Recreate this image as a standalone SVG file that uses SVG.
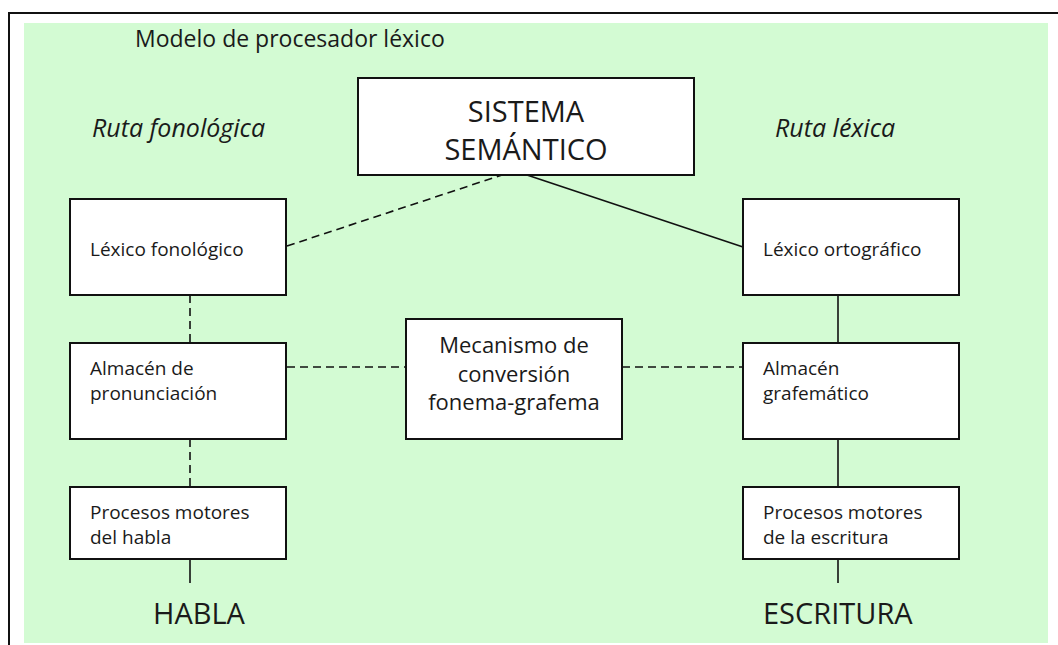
<svg xmlns="http://www.w3.org/2000/svg" width="1058" height="645" viewBox="0 0 1058 645">
<style>
text{font-family:"Open Sans","Noto Sans","Liberation Sans",sans-serif;fill:#1a1a1a}
.box{fill:#fff;stroke:#111;stroke-width:2}
.c{stroke:#111;stroke-width:1.6;fill:none}
.d{stroke-dasharray:8,5}
.s{font-size:19px}
.m{font-size:22px}
.it{font-size:25px;font-style:italic}
.big{font-size:29px}
</style>
<rect x="0" y="0" width="1058" height="645" fill="#fff"/>
<path d="M9,645 V13 H1058" fill="none" stroke="#111" stroke-width="2"/>
<rect x="24" y="23" width="1024" height="620" fill="#D3FBD3"/>
<text x="135" y="47" font-size="23">Modelo de procesador léxico</text>
<text x="92" y="137" class="it">Ruta fonológica</text>
<text x="775" y="137" class="it">Ruta léxica</text>
<g id="connectors">
<line class="c d" x1="287" y1="246" x2="502" y2="175"/>
<line class="c" x1="527" y1="175" x2="743" y2="247"/>
<line class="c d" x1="190" y1="295" x2="190" y2="343"/>
<line class="c d" x1="190" y1="439" x2="190" y2="487"/>
<line class="c" x1="190" y1="559" x2="190" y2="583"/>
<line class="c d" x1="287" y1="367" x2="406" y2="367"/>
<line class="c d" x1="622" y1="367" x2="743" y2="367"/>
<line class="c" x1="838" y1="295" x2="838" y2="343"/>
<line class="c" x1="838" y1="439" x2="838" y2="487"/>
<line class="c" x1="838" y1="559" x2="838" y2="583"/>
</g>
<g id="sistema">
<rect class="box" x="358" y="78" width="336" height="97"/>
<text x="526" y="122" text-anchor="middle" class="big">SISTEMA</text>
<text x="526" y="160" text-anchor="middle" class="big">SEMÁNTICO</text>
</g>
<g id="lexico-fonologico">
<rect class="box" x="70" y="199" width="216" height="96"/>
<text x="90" y="256" class="s">Léxico fonológico</text>
</g>
<g id="almacen-pronunciacion">
<rect class="box" x="70" y="343" width="216" height="96"/>
<text x="90" y="375" class="s">Almacén de</text>
<text x="90" y="400" class="s">pronunciación</text>
</g>
<g id="procesos-habla">
<rect class="box" x="70" y="487" width="216" height="72"/>
<text x="90" y="519" class="s">Procesos motores</text>
<text x="90" y="544" class="s">del habla</text>
</g>
<g id="mecanismo">
<rect class="box" x="406" y="319" width="216" height="120"/>
<text x="514" y="353" text-anchor="middle" class="m">Mecanismo de</text>
<text x="514" y="382" text-anchor="middle" class="m">conversión</text>
<text x="514" y="410" text-anchor="middle" class="m">fonema-grafema</text>
</g>
<g id="lexico-ortografico">
<rect class="box" x="743" y="199" width="216" height="96"/>
<text x="763" y="256" class="s">Léxico ortográfico</text>
</g>
<g id="almacen-grafematico">
<rect class="box" x="743" y="343" width="216" height="96"/>
<text x="763" y="375" class="s">Almacén</text>
<text x="763" y="400" class="s">grafemático</text>
</g>
<g id="procesos-escritura">
<rect class="box" x="743" y="487" width="216" height="72"/>
<text x="763" y="519" class="s">Procesos motores</text>
<text x="763" y="544" class="s">de la escritura</text>
</g>
<g id="habla">
<text x="153" y="624" class="big">HABLA</text>
</g>
<g id="escritura">
<text x="763" y="624" class="big">ESCRITURA</text>
</g>
</svg>
